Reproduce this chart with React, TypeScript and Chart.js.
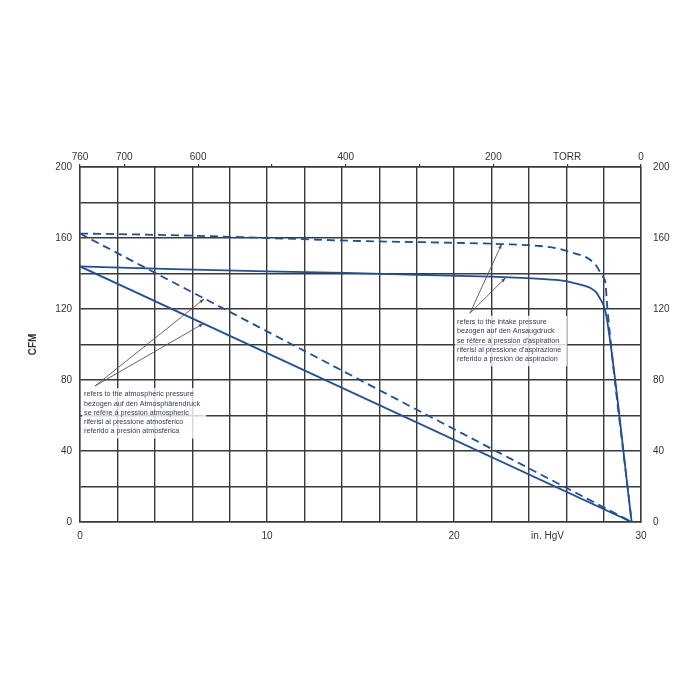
import React, { useEffect, useRef } from "react";
import { Chart, registerables } from "chart.js";

Chart.register(...registerables);

// ---------- data ----------
const atmX = [0, 29.5];
const atmSolidY = [144, 0];
const atmDashedY = [162.5, 0];

const intakeSolidX = [0, 5, 10, 14.2, 18, 22, 24.6, 25.9, 26.4, 27.0, 27.3, 27.6, 27.8, 28.0, 28.16, 29.5];
const intakeSolidY = [144, 142.5, 141.2, 140.3, 139.3, 138.2, 137, 135.8, 134.6, 133, 131.8, 129.5, 126, 122, 115.5, 0];

const intakeDashedX = [0, 3, 6, 10, 15, 20, 22.5, 24.6, 25.6, 26.4, 27.0, 27.3, 27.6, 27.8, 28.0, 28.1, 28.2, 29.5];
const intakeDashedY = [162.5, 162, 161.3, 160, 158.3, 157.3, 156.6, 155.5, 154, 151.5, 149.5, 147.6, 144.5, 141, 137.5, 134.6, 121, 0];

const bottomLabelValues = [0, 10, 20, 25, 30];
const bottomLabels = ["0", "10", "20", "in. HgV", "30"];

const torrValues = [760, 700, 600, 500, 400, 300, 200, 100, 0];
const torrLabels = ["760", "700", "600", "", "400", "", "200", "TORR", "0"];

const cfmLabelValues = [0, 40, 80, 120, 160, 200];

const atmText = [
  "refers to the atmospheric pressure",
  "bezogen auf den Atmosphärendruck",
  "se réfère à pression atmospheric",
  "riferisi al pressione atmosferico",
  "referido a presión atmosférica",
];
const intakeText = [
  "refers to the intake pressure",
  "bezogen auf den Ansaugdruck",
  "se réfère à pression d'aspiration",
  "riferisi al pressione d'aspirazione",
  "referido a presión de aspiracion",
];
// text anchor (first line), pointer origin, pointer targets (data coords)
const atmTextAt = [0.22, 72.1];
const atmPointerFrom = [0.8, 76.6];
const atmPointerTo = [[6.63, 125.6], [6.6, 111.8]];
const intakeTextAt = [20.16, 112.8];
const intakePointerFrom = [20.85, 117.6];
const intakePointerTo = [[22.55, 156.6], [22.76, 137.6]];

// ---------- styles ----------
const FONT = '"Liberation Sans", Arial, sans-serif';
const BLUE = "#1d4f9c";
const GRID = "#3a3a3a";
const TEXT = "#333";
const CONDENSE = 0.9;

const torrToIn = (t: number) => ((760 - t) / 760) * 30;

const pts = (xs: number[], ys: number[]) => xs.map((x, i) => ({ x, y: ys[i] }));

const annotations = [
  { text: atmText, at: atmTextAt, from: atmPointerFrom, to: atmPointerTo },
  { text: intakeText, at: intakeTextAt, from: intakePointerFrom, to: intakePointerTo },
];

const LINE_H = 9.3;

const annoPlugin = {
  id: "annoPlugin",
  beforeDatasetsDraw(chart: any) {
    const { ctx, scales } = chart;
    const x = scales.x, y = scales.y;
    ctx.save();
    ctx.font = `8px ${FONT}`;
    for (const a of annotations) {
      const px = x.getPixelForValue(a.at[0]);
      const py = y.getPixelForValue(a.at[1]);
      const w = Math.max(...a.text.map((t: string) => ctx.measureText(t).width)) * CONDENSE;
      ctx.fillStyle = "rgba(255,255,255,0.8)";
      ctx.fillRect(px - 2, py - 6, w + 8, LINE_H * a.text.length + 4);
    }
    ctx.restore();
  },
  afterDatasetsDraw(chart: any) {
    const { ctx, scales } = chart;
    const x = scales.x, y = scales.y;
    ctx.save();
    for (const a of annotations) {
      // pointer lines
      const fx = x.getPixelForValue(a.from[0]);
      const fy = y.getPixelForValue(a.from[1]);
      ctx.strokeStyle = "#555";
      ctx.fillStyle = "#555";
      ctx.lineWidth = 0.9;
      for (const t of a.to) {
        const tx = x.getPixelForValue(t[0]);
        const ty = y.getPixelForValue(t[1]);
        ctx.beginPath();
        ctx.moveTo(fx, fy);
        ctx.lineTo(tx, ty);
        ctx.stroke();
        const ang = Math.atan2(ty - fy, tx - fx);
        ctx.beginPath();
        ctx.moveTo(tx, ty);
        ctx.lineTo(tx - 5 * Math.cos(ang - 0.35), ty - 5 * Math.sin(ang - 0.35));
        ctx.lineTo(tx - 5 * Math.cos(ang + 0.35), ty - 5 * Math.sin(ang + 0.35));
        ctx.closePath();
        ctx.fill();
      }
      // text (slightly condensed, like the narrow face of the original)
      const px = x.getPixelForValue(a.at[0]);
      const py = y.getPixelForValue(a.at[1]);
      ctx.save();
      ctx.translate(px, py);
      ctx.scale(CONDENSE, 1);
      ctx.font = `8px ${FONT}`;
      ctx.fillStyle = "#33395a";
      ctx.textBaseline = "middle";
      ctx.textAlign = "left";
      a.text.forEach((t: string, i: number) => ctx.fillText(t, 0, i * LINE_H));
      ctx.restore();
    }
    ctx.restore();
  },
};

export default function App() {
  const ref = useRef<HTMLCanvasElement | null>(null);

  useEffect(() => {
    if (!ref.current) return;
    const tickFont = { family: FONT, size: 10 };
    const chart = new Chart(ref.current, {
      type: "line",
      data: {
        datasets: [
          {
            data: pts(intakeDashedX, intakeDashedY),
            borderColor: BLUE,
            borderWidth: 1.8,
            borderDash: [8, 5],
            pointRadius: 0,
            cubicInterpolationMode: "monotone",
            fill: false,
          },
          {
            data: pts(intakeSolidX, intakeSolidY),
            borderColor: BLUE,
            borderWidth: 1.8,
            pointRadius: 0,
            cubicInterpolationMode: "monotone",
            fill: false,
          },
          {
            data: pts(atmX, atmDashedY),
            borderColor: BLUE,
            borderWidth: 1.8,
            borderDash: [8, 5],
            pointRadius: 0,
            fill: false,
          },
          {
            data: pts(atmX, atmSolidY),
            borderColor: BLUE,
            borderWidth: 1.8,
            pointRadius: 0,
            fill: false,
          },
        ],
      },
      options: {
        animation: false,
        responsive: true,
        maintainAspectRatio: false,
        layout: { padding: 0 },
        plugins: { legend: { display: false }, tooltip: { enabled: false } },
        scales: {
          x: {
            type: "linear",
            position: "bottom",
            min: 0,
            max: 30,
            afterBuildTicks: (s: any) => {
              const v: number[] = [];
              for (let i = 0; i <= 30; i += 2) v.push(i);
              v.push(25);
              v.sort((a, b) => a - b);
              s.ticks = v.map((value) => ({ value }));
            },
            afterFit: (s: any) => { s.height = 178; },
            ticks: {
              autoSkip: false,
              maxRotation: 0,
              padding: 8,
              color: TEXT,
              font: tickFont,
              callback: (val: any) => {
                const i = bottomLabelValues.indexOf(Number(val));
                return i >= 0 ? bottomLabels[i] : "";
              },
            },
            grid: {
              color: (c: any) => (c.tick && c.tick.value === 25 ? "rgba(0,0,0,0)" : GRID),
              lineWidth: 1.4,
              drawTicks: false,
            },
            border: { color: GRID, width: 1.4 },
          },
          x2: {
            type: "linear",
            position: "top",
            min: 0,
            max: 30,
            afterBuildTicks: (s: any) => {
              s.ticks = torrValues.map((t) => ({ value: torrToIn(t) })).sort((a, b) => a.value - b.value);
            },
            afterFit: (s: any) => { s.height = 167; },
            ticks: {
              autoSkip: false,
              maxRotation: 0,
              padding: 1,
              color: TEXT,
              font: tickFont,
              callback: (val: any) => {
                const v = Number(val);
                const i = torrValues.findIndex((t) => Math.abs(torrToIn(t) - v) < 1e-6);
                return i >= 0 ? torrLabels[i] : "";
              },
            },
            grid: { drawOnChartArea: false, color: GRID, lineWidth: 1.2, tickLength: 3, drawTicks: true },
            border: { color: GRID, width: 1.4 },
          },
          y: {
            type: "linear",
            position: "left",
            min: 0,
            max: 200,
            afterFit: (s: any) => { s.width = 80; },
            ticks: {
              stepSize: 20,
              autoSkip: false,
              padding: 8,
              color: TEXT,
              font: tickFont,
              callback: (val: any) => (cfmLabelValues.includes(Number(val)) ? String(val) : ""),
            },
            title: {
              display: true,
              text: "CFM",
              color: TEXT,
              font: { family: FONT, size: 10, weight: "bold" },
              padding: { top: 27, bottom: 0 },
            },
            grid: { color: GRID, lineWidth: 1.4, drawTicks: false },
            border: { color: GRID, width: 1.4 },
          },
          y2: {
            type: "linear",
            position: "right",
            min: 0,
            max: 200,
            afterFit: (s: any) => { s.width = 59; },
            ticks: {
              stepSize: 20,
              autoSkip: false,
              padding: 12,
              color: TEXT,
              font: tickFont,
              callback: (val: any) => (cfmLabelValues.includes(Number(val)) ? String(val) : ""),
            },
            grid: { drawOnChartArea: false, drawTicks: false },
            border: { color: GRID, width: 1.4 },
          },
        },
      },
      plugins: [annoPlugin],
    } as any);
    return () => chart.destroy();
  }, []);

  return (
    <div style={{ position: "absolute", left: 0, top: 0, width: 700, height: 700, background: "#fff" }}>
      <canvas ref={ref} />
    </div>
  );
}
